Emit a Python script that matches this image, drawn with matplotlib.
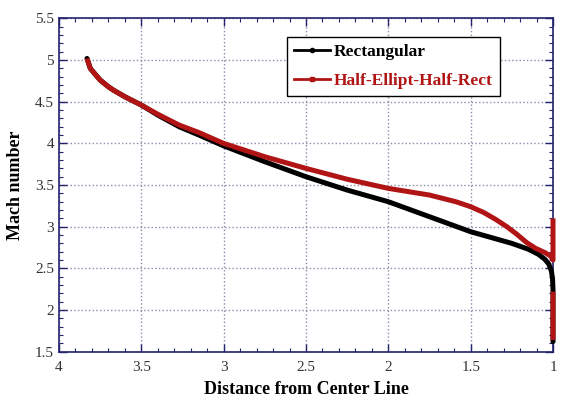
import numpy as np
import matplotlib
matplotlib.use("Agg")
import matplotlib.pyplot as plt
from matplotlib.lines import Line2D
from matplotlib.ticker import MultipleLocator

plt.rcParams['font.family'] = ['Liberation Serif', 'DejaVu Serif']

# distance from center line vs Mach number
rect_x = [3.83, 3.82, 3.81, 3.78, 3.75, 3.70, 3.67, 3.60, 3.50, 3.40, 3.27, 3.15,
          3.00, 2.75, 2.50, 2.25, 2.00, 1.75, 1.50, 1.25, 1.15, 1.09, 1.05,
          1.025, 1.01, 1.003, 1.00, 1.00]
rect_y = [5.02, 4.96, 4.90, 4.83, 4.76, 4.68, 4.64, 4.56, 4.46, 4.34, 4.20, 4.10,
          3.97, 3.78, 3.60, 3.44, 3.30, 3.12, 2.94, 2.80, 2.73, 2.67, 2.61,
          2.55, 2.47, 2.38, 2.25, 1.62]

half_x = [3.83, 3.82, 3.81, 3.78, 3.75, 3.70, 3.67, 3.60, 3.50, 3.40, 3.27, 3.15,
          3.00, 2.75, 2.50, 2.25, 2.00, 1.75, 1.59, 1.50, 1.42, 1.35, 1.28, 1.22,
          1.16, 1.105, 1.05, 1.015, 1.00, 1.00, np.nan, 1.00, 1.00]
half_y = [5.02, 4.96, 4.90, 4.83, 4.76, 4.68, 4.64, 4.56, 4.46, 4.35, 4.22, 4.13,
          4.00, 3.84, 3.70, 3.57, 3.46, 3.38, 3.30, 3.24, 3.17, 3.09, 3.00, 2.91,
          2.81, 2.74, 2.69, 2.65, 2.60, 3.10, np.nan, 2.22, 1.64]

red = '#b01414'
navy = '#23236e'

fig = plt.figure(figsize=(5.62, 4.01), dpi=100)
ax = fig.add_axes([0.105, 0.123, 0.879, 0.831])

ax.plot(rect_x, rect_y, color='black', lw=3.6, solid_joinstyle='round',
        solid_capstyle='round', clip_on=False, zorder=3)
ax.plot(half_x, half_y, color=red, lw=3.6, solid_joinstyle='round',
        solid_capstyle='butt', clip_on=False, zorder=3)

ax.set_xlim(4, 1)
ax.set_ylim(1.5, 5.5)
ax.xaxis.set_major_locator(MultipleLocator(0.5))
ax.xaxis.set_minor_locator(MultipleLocator(0.1))
ax.yaxis.set_major_locator(MultipleLocator(0.5))
ax.yaxis.set_minor_locator(MultipleLocator(0.1))
ax.set_xticks([4, 3.5, 3, 2.5, 2, 1.5, 1])
ax.set_xticklabels(['4', '3.5', '3', '2.5', '2', '1.5', '1'])
ax.set_yticks([1.5, 2, 2.5, 3, 3.5, 4, 4.5, 5, 5.5])
ax.set_yticklabels(['1.5', '2', '2.5', '3', '3.5', '4', '4.5', '5', '5.5'])

ax.tick_params(which='both', direction='in', top=True, right=True, color=navy,
               labelsize=11, labelcolor='#333333')
ax.tick_params(which='major', length=6, width=1)
ax.tick_params(which='minor', length=3, width=0.8)
ax.tick_params(axis='x', pad=7)
for s in ax.spines.values():
    s.set_color(navy)
    s.set_linewidth(1.2)

ax.grid(True, which='major', color='#8a8aa8', linestyle=':', linewidth=1.0)
ax.set_axisbelow(True)

ax.set_xlabel('Distance from Center Line', fontsize=13, fontweight='bold', labelpad=5)
ax.set_ylabel('Mach number', fontsize=13, fontweight='bold', labelpad=8)

handles = [Line2D([], [], color='black', lw=2, marker='o', markersize=3),
           Line2D([], [], color=red, lw=2, marker='s', markersize=3)]
leg = ax.legend(handles, ['Rectangular', 'Half-Ellipt-Half-Rect'],
                loc='upper left', bbox_to_anchor=(0.4615, 0.944), borderaxespad=0,
                prop={'weight': 'bold', 'size': 12.5}, frameon=True, fancybox=False,
                edgecolor='black', framealpha=1, handlelength=2.1, handletextpad=0.2,
                borderpad=0.4, labelspacing=0.75)
leg.get_frame().set_linewidth(1.0)
leg.get_texts()[1].set_color(red)

fig.savefig('out.png', dpi=100)
